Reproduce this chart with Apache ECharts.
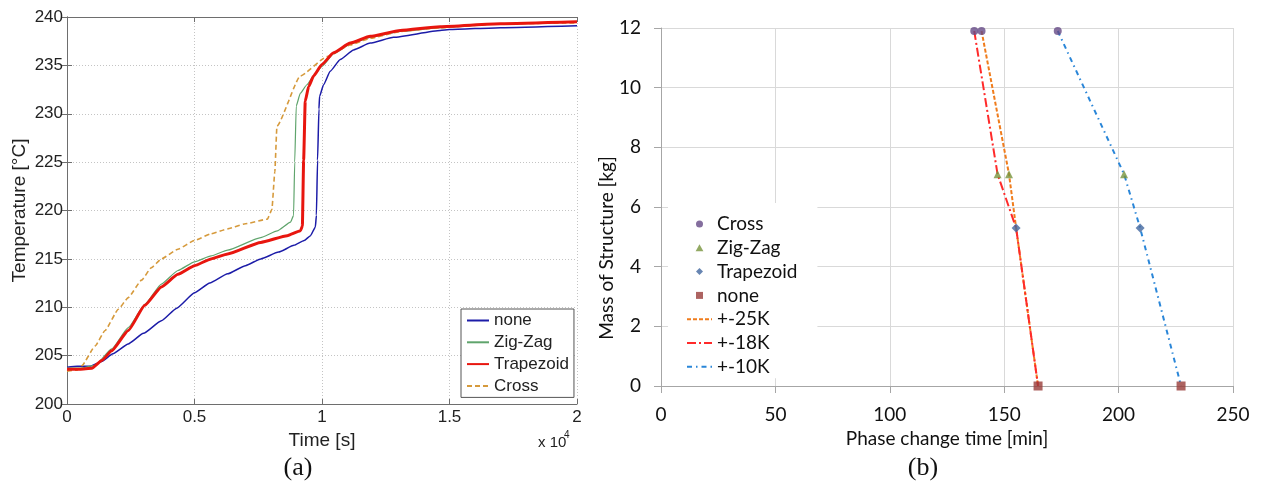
<!DOCTYPE html>
<html>
<head>
<meta charset="utf-8">
<script src="https://cdn.jsdelivr.net/npm/echarts@6/dist/echarts.min.js"></script>
<style>
  html, body { margin: 0; padding: 0; background: #fff; }
  #chart { width: 1261px; height: 482px; }
</style>
</head>
<body>
<div id="chart"></div>
<script>
// (a) Temperature history [time s, temperature °C] for each structure
const tempNone = [[0,203.8],[400,203.9],[900,203.9],[1360,204.4],[1800,205.2],[2400,206.2],[3000,207.3],[3700,208.6],[4300,209.9],[5000,211.5],[5600,212.5],[6300,213.45],[7000,214.3],[7600,215.0],[8300,215.7],[8900,216.4],[9300,216.9],[9550,217.4],[9740,218.3],[9780,219.5],[9826,225.2],[9880,230.5],[9905,231.8],[10061,233.0],[10323,234.4],[10715,235.6],[11238,236.6],[11891,237.3],[12806,237.9],[14636,238.6],[15000,238.7],[17000,238.9],[20000,239.1]];
const tempZigZag = [[0,203.7],[500,203.7],[1104,204.0],[1753,205.7],[2403,207.9],[3052,210.3],[3701,212.4],[4351,213.8],[5000,214.7],[5650,215.3],[6299,215.9],[7597,217.2],[8247,217.9],[8767,218.8],[8885,219.5],[8930,225.0],[8990,230.8],[9146,232.1],[9408,233.0],[9700,234.0],[10000,234.9],[10453,236.2],[11107,237.2],[11891,237.9],[13067,238.5],[14636,238.9],[17000,239.3],[20000,239.5]];
const tempTrapezoid = [[0,203.6],[500,203.6],[974,203.7],[1364,204.5],[1753,205.5],[2403,207.6],[3052,210.2],[3701,212.1],[4351,213.4],[5000,214.3],[5650,215.0],[6299,215.5],[7597,216.7],[8636,217.4],[9156,217.9],[9230,218.4],[9280,225.2],[9342,231.3],[9473,232.8],[9669,233.9],[9996,235.1],[10453,236.3],[11107,237.3],[11891,238.0],[13067,238.6],[14636,239.0],[17000,239.3],[20000,239.5]];
const tempCross = [[0,203.4],[400,203.5],[585,203.97],[1104,206.0],[1494,207.6],[2013,209.8],[2403,211.0],[2923,212.8],[3312,214.1],[3701,215.0],[4351,216.0],[5000,216.9],[5650,217.6],[6299,218.1],[6948,218.6],[7857,219.1],[8035,220.1],[8150,224.0],[8232,228.7],[9146,233.9],[10192,235.9],[11107,237.1],[11891,237.8],[13067,238.5],[14636,238.9],[17000,239.3],[20000,239.4]];

// (b) Phase change time [min] vs mass of structure [kg]
const massCross = [[136.9,11.9],[140.1,11.9],[173.4,11.9]];
const massZigZag = [[147.1,7.1],[152.1,7.1],[202.4,7.1]];
const massTrapezoid = [[155.2,5.3],[209.4,5.3]];
const massNone = [[164.8,0],[227.3,0]];
const band25K = [[140.1,11.9],[152.1,7.1],[155.2,5.3],[164.8,0]];
const band18K = [[136.9,11.9],[147.1,7.1],[155.2,5.3],[164.8,0]];
const band10K = [[173.4,11.9],[202.4,7.1],[209.4,5.3],[227.3,0]];

const leftLegendNames = ['none','Zig-Zag','Trapezoid','Cross'];
const rightMarkerNames = ['Cross','Zig-Zag','Trapezoid','none'];
const rightBandNames = ['+-25K','+-18K','+-10K'];

const sansA = '"Liberation Sans", Arial, sans-serif';
const sansB = 'Lato, "Noto Sans", sans-serif';
const serif = '"Liberation Serif", "DejaVu Serif", serif';

const chart = echarts.init(document.getElementById('chart'), null, { renderer: 'canvas' });

const boxLine = { show: true, lineStyle: { color: '#6e6e6e', width: 1 } };
const inTick = { show: true, inside: true, length: 5, lineStyle: { color: '#6e6e6e' } };
const dotted = { show: true, lineStyle: { color: '#c4c4c4', type: [1, 2], width: 1 } };
const excelAxis = { show: true, lineStyle: { color: '#a6a6a6', width: 1 } };
const excelTick = { show: true, inside: false, length: 7, lineStyle: { color: '#a6a6a6' } };
const excelSplit = { show: true, lineStyle: { color: '#d9d9d9', width: 1 } };

// line-only legend entries: keep the stroke, hide the centre marker
const hiddenMarker = { opacity: 0, color: 'rgba(0,0,0,0)', borderColor: 'rgba(0,0,0,0)', borderWidth: 0 };

// square-proportioned legend glyphs for the marker series
const legendGlyph = {
  'Cross': 'circle',
  'Zig-Zag': 'path://M5,0 L10,9 L0,9 Z',
  'Trapezoid': 'path://M5,0 L10,5 L5,10 L0,5 Z',
  'none': 'path://M0,0 L10,0 L10,10 L0,10 Z'
};

// series names carry a panel prefix so each legend picks up its own series
const stripPrefix = n => n.replace(/^[ab]:/, '');

function tempLine(name, data, color, width, type) {
  return {
    name: 'a:' + name, type: 'line', xAxisIndex: 0, yAxisIndex: 0,
    data: data, symbol: 'none', smooth: 0.15, smoothMonotone: 'x',
    lineStyle: { color: color, width: width, type: type || 'solid' },
    itemStyle: { color: color }, animation: false
  };
}
function massPoints(name, data, symbol, size, color) {
  return {
    name: 'b:' + name, type: 'scatter', xAxisIndex: 2, yAxisIndex: 2,
    data: data, symbol: symbol, symbolSize: size, z: 4,
    itemStyle: { color: color }, animation: false
  };
}
function massBand(name, data, color, dash) {
  return {
    name: 'b:' + name, type: 'line', xAxisIndex: 2, yAxisIndex: 2,
    data: data, symbol: 'none', z: 3,
    lineStyle: { color: color, width: 2, type: dash },
    itemStyle: { color: color }, animation: false
  };
}

chart.setOption({
  animation: false,
  backgroundColor: '#ffffff',
  grid: [
    { left: 67, top: 17, width: 510, height: 387 },
    { left: 661, top: 28, width: 572, height: 358 }
  ],
  xAxis: [
    {
      gridIndex: 0, type: 'value', min: 0, max: 20000, interval: 5000, position: 'bottom',
      axisLine: boxLine, axisTick: inTick, splitLine: dotted,
      axisLabel: { margin: 5, color: '#222', fontFamily: sansA, fontSize: 17,
        formatter: v => String(v / 10000) },
      name: 'Time [s]', nameLocation: 'middle', nameGap: 23,
      nameTextStyle: { color: '#222', fontFamily: sansA, fontSize: 19 }
    },
    {
      gridIndex: 0, type: 'value', min: 0, max: 20000, interval: 5000, position: 'top',
      axisLine: boxLine, axisTick: inTick, splitLine: { show: false }, axisLabel: { show: false }
    },
    {
      gridIndex: 1, type: 'value', min: 0, max: 250, interval: 50,
      axisLine: excelAxis, axisTick: excelTick, splitLine: excelSplit,
      axisLabel: { margin: 19, color: '#111', fontFamily: sansB, fontSize: 19 },
      name: 'Phase change time [min]', nameLocation: 'middle', nameGap: 41,
      nameTextStyle: { color: '#111', fontFamily: sansB, fontSize: 19 }
    }
  ],
  yAxis: [
    {
      gridIndex: 0, type: 'value', min: 200, max: 240, interval: 5, position: 'left',
      axisLine: boxLine, axisTick: inTick, splitLine: dotted,
      axisLabel: { margin: 4, color: '#222', fontFamily: sansA, fontSize: 17 },
      name: 'Temperature [°C]', nameLocation: 'middle', nameGap: 38,
      nameTextStyle: { color: '#222', fontFamily: sansA, fontSize: 19 }
    },
    {
      gridIndex: 0, type: 'value', min: 200, max: 240, interval: 5, position: 'right',
      axisLine: boxLine, axisTick: inTick, splitLine: { show: false }, axisLabel: { show: false }
    },
    {
      gridIndex: 1, type: 'value', min: 0, max: 12, interval: 2,
      axisLine: excelAxis, axisTick: excelTick, splitLine: excelSplit,
      axisLabel: { margin: 20, color: '#111', fontFamily: sansB, fontSize: 19 }
    }
  ],
  legend: [
    {
      data: leftLegendNames.map(n => ({ name: 'a:' + n, itemStyle: hiddenMarker })),
      formatter: stripPrefix,
      orient: 'vertical', left: 461, top: 309,
      padding: [3, 5, 3, 5], itemGap: 4.8, itemWidth: 22, itemHeight: 8,
      itemStyle: hiddenMarker,
      backgroundColor: '#fff', borderColor: '#555', borderWidth: 1, borderRadius: 0,
      textStyle: { color: '#222', fontFamily: sansA, fontSize: 17, lineHeight: 17 },
      selectedMode: false
    },
    {
      data: rightMarkerNames.map(n => ({ name: 'b:' + n, icon: legendGlyph[n] }))
        .concat(rightBandNames.map(n => ({ name: 'b:' + n, itemStyle: hiddenMarker }))),
      formatter: stripPrefix,
      orient: 'vertical', left: 668, top: 203,
      padding: [11.5, 20, 2, 18], itemGap: 4.8, itemWidth: 25, itemHeight: 7,
      symbolKeepAspect: true,
      backgroundColor: '#fff', borderWidth: 0,
      textStyle: { color: '#111', fontFamily: sansB, fontSize: 19, lineHeight: 19 },
      selectedMode: false
    }
  ],
  graphic: [
    { type: 'text', x: 538, y: 443,
      style: { text: 'x 10', fontFamily: sansA, fontSize: 15, fill: '#222', textAlign: 'left', textVerticalAlign: 'middle' } },
    { type: 'text', x: 564, y: 435,
      style: { text: '4', fontFamily: sansA, fontSize: 10, fill: '#222', textAlign: 'left', textVerticalAlign: 'middle' } },
    { type: 'text', x: 607, y: 248, rotation: Math.PI / 2,
      style: { text: 'Mass of Structure [kg]', fontFamily: sansB, fontSize: 19, fill: '#111', textAlign: 'center', textVerticalAlign: 'middle' } },
    { type: 'text', x: 298, y: 468,
      style: { text: '(a)', fontFamily: serif, fontSize: 26, fill: '#111', textAlign: 'center', textVerticalAlign: 'middle' } },
    { type: 'text', x: 923, y: 468,
      style: { text: '(b)', fontFamily: serif, fontSize: 26, fill: '#111', textAlign: 'center', textVerticalAlign: 'middle' } }
  ],
  series: [
    tempLine('none', tempNone, '#1c1ca8', 1.5),
    tempLine('Zig-Zag', tempZigZag, '#5fa46c', 1.2),
    tempLine('Cross', tempCross, '#d69a3c', 1.6, [5, 3]),
    tempLine('Trapezoid', tempTrapezoid, '#e8160f', 3),

    massBand('+-25K', band25K, '#f07c1c', [4, 2]),
    massBand('+-18K', band18K, '#ff2a2a', [9, 3, 2, 3]),
    massBand('+-10K', band10K, '#2a86d8', [5, 4, 1.5, 4]),
    massPoints('Cross', massCross, 'circle', 8, '#654a86'),
    massPoints('Zig-Zag', massZigZag, 'triangle', 8, '#77933c'),
    massPoints('Trapezoid', massTrapezoid, 'diamond', 9, '#41679f'),
    massPoints('none', massNone, 'rect', 9, '#983c3a')
  ]
});
</script>
</body>
</html>
